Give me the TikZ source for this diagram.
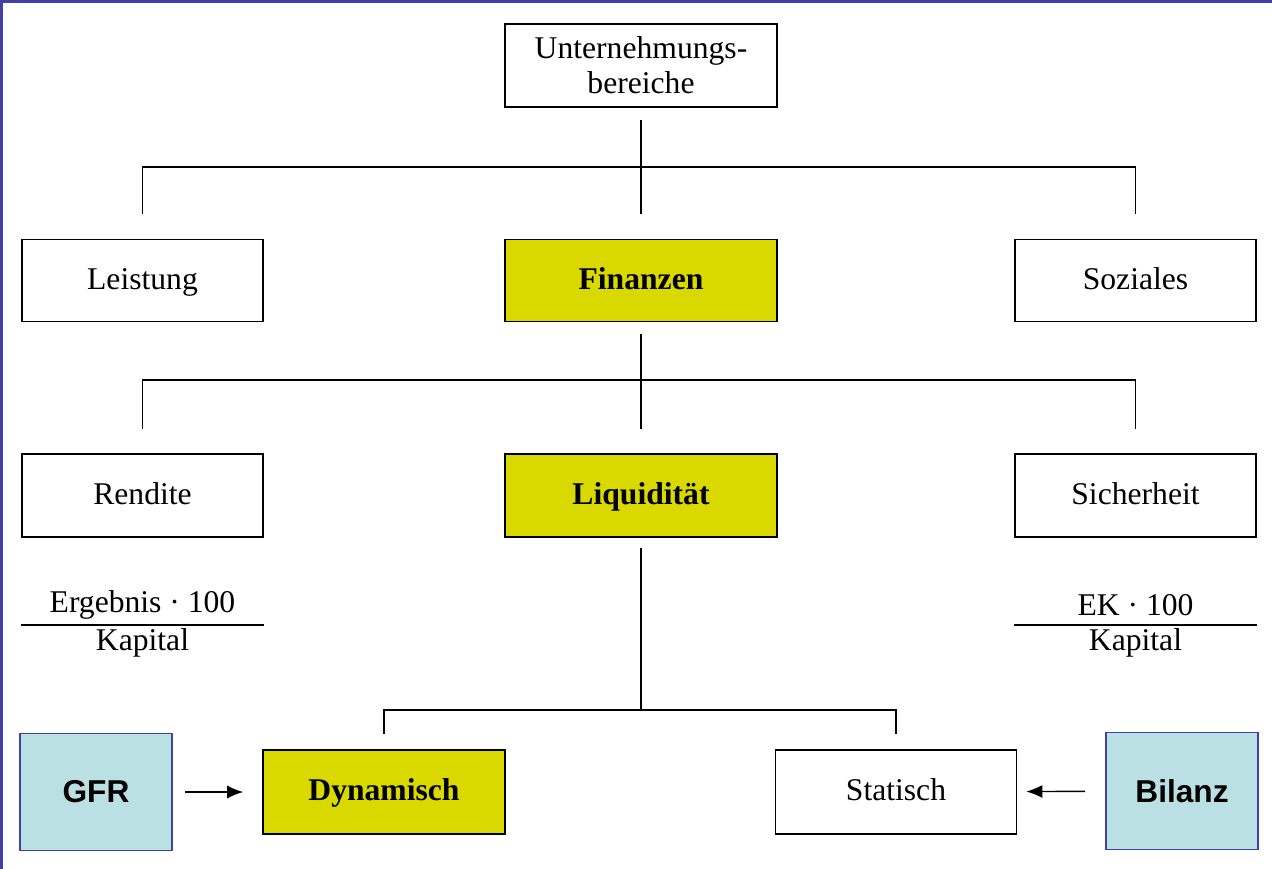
\documentclass[tikz,border=0pt]{standalone}
\usepackage{fontspec}
\setmainfont{Liberation Serif}
\newfontfamily\arialfont{Liberation Sans}
\usepackage{xcolor}
\usepackage{tikz}
\usetikzlibrary{arrows.meta}

\definecolor{keyyellow}{RGB}{217,217,0}
\definecolor{srcblue}{RGB}{186,224,228}
\definecolor{frameblue}{RGB}{64,64,168}

\tikzset{
    framebox/.style={draw,line width=0.9pt,minimum width=4.82cm,minimum height=1.64cm,inner sep=0pt,font=\fontsize{18}{20}\selectfont},
    plainbox/.style={framebox,text height=12.5pt,text depth=2.5pt},
    keybox/.style={plainbox,fill=keyyellow,minimum width=5.44cm,font=\fontsize{18}{20}\selectfont\bfseries},
    srcbox/.style={draw=frameblue,line width=0.9pt,fill=srcblue,minimum width=3.04cm,minimum height=2.34cm,font=\arialfont\fontsize{18}{20}\selectfont\bfseries},
    fraclabel/.style={inner sep=0pt,font=\fontsize{18}{20}\selectfont},
    tree/.style={line width=0.8pt},
    feed/.style={line width=0.8pt,-{Latex[length=0.32cm,width=0.26cm]}},
}

\begin{document}
\begin{tikzpicture}[x=0.02cm,y=-0.02cm]
    \useasboundingbox (0,0) rectangle (1272,869);
    \draw[frameblue,line width=1.2pt] (1.5,869) -- (1.5,1.5) -- (1272,1.5);

    % top level
    \node[framebox,minimum width=5.44cm,minimum height=1.66cm,align=center] (top) at (641,65.5) {Unternehmungs-\\bereiche};

    % second level
    \node[plainbox] (leist) at (142.5,280.5) {Leistung};
    \node[keybox] (fin) at (641,280.5) {Finanzen};
    \node[plainbox] (soz) at (1135.5,280.5) {Soziales};

    % third level
    \node[plainbox,minimum height=1.66cm] (rend) at (142.5,495.5) {Rendite};
    \node[keybox,minimum height=1.66cm] (liq) at (641,495.5) {Liquidität};
    \node[plainbox,minimum height=1.66cm] (sich) at (1135.5,495.5) {Sicherheit};

    % ratios
    \node[fraclabel] (rendnum) at (142.5,605) {Ergebnis · 100};
    \node[fraclabel] (rendden) at (142.5,643) {Kapital};
    \node[fraclabel] (sichnum) at (1135.5,605) {EK · 100};
    \node[fraclabel] (sichden) at (1135.5,643) {Kapital};
    \coordinate (rendbar) at (142.5,625);
    \coordinate (sichbar) at (1135.5,625);
    \draw[tree] (rendbar -| rend.west) -- (rendbar -| rend.east);
    \draw[tree] (sichbar -| sich.west) -- (sichbar -| sich.east);

    % bottom level
    \node[keybox,minimum width=4.84cm,minimum height=1.68cm] (dyn) at (384,792) {Dynamisch};
    \node[plainbox,minimum height=1.68cm] (stat) at (896,792) {Statisch};
    \node[srcbox] (gfr) at (96,792) {GFR};
    \node[srcbox] (bil) at (1182,791) {Bilanz};

    % tree lines
    \coordinate (bus1) at (641,167);
    \coordinate (bus2) at (641,380);
    \coordinate (bus3) at (641,710);
    \draw[tree,shorten <=0.25cm] (top) -- (bus1);
    \draw[tree,shorten >=0.5cm] (bus1) -| (leist);
    \draw[tree,shorten >=0.5cm] (bus1) -- (fin);
    \draw[tree,shorten >=0.5cm] (bus1) -| (soz);
    \draw[tree,shorten <=0.24cm] (fin) -- (bus2);
    \draw[tree,shorten >=0.48cm] (bus2) -| (rend);
    \draw[tree,shorten >=0.48cm] (bus2) -- (liq);
    \draw[tree,shorten >=0.48cm] (bus2) -| (sich);
    \draw[tree,shorten <=0.2cm] (liq) -- (bus3);
    \draw[tree,shorten >=0.3cm] (bus3) -| (dyn);
    \draw[tree,shorten >=0.3cm] (bus3) -| (stat);

    % sources
    \draw[feed,shorten <=0.24cm,shorten >=0.38cm] (gfr) -- (dyn);
    \draw[feed,shorten <=0.4cm,shorten >=0.18cm] (bil) -- (stat);
\end{tikzpicture}
\end{document}
